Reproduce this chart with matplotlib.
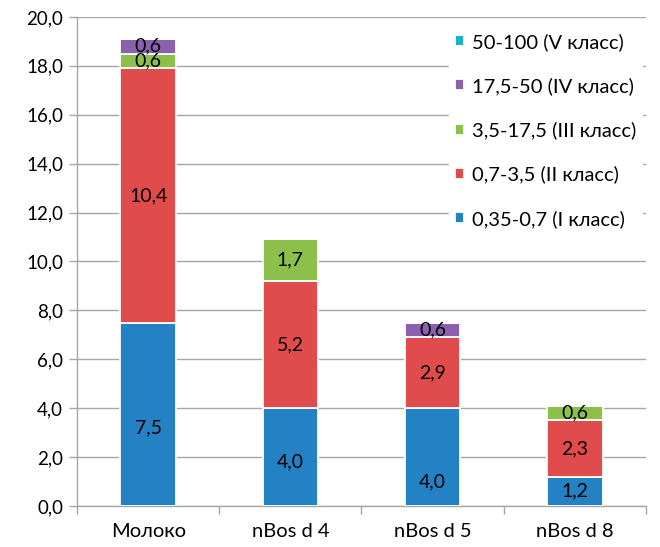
import matplotlib
matplotlib.use("Agg")
import matplotlib.pyplot as plt
import numpy as np

plt.rcParams['font.family'] = ['Lato', 'DejaVu Sans']

categories = ["Молоко", "nBos d 4", "nBos d 5", "nBos d 8"]
series_names = ["0,35-0,7 (I класс)", "0,7-3,5 (II класс)", "3,5-17,5 (III класс)",
                "17,5-50 (IV класс)", "50-100 (V класс)"]
class_I = [7.5, 4.0, 4.0, 1.2]
class_II = [10.4, 5.2, 2.9, 2.3]
class_III = [0.6, 1.7, 0.0, 0.6]
class_IV = [0.6, 0.0, 0.6, 0.0]
class_V = [0.0, 0.0, 0.0, 0.0]
colors = ["#2381c4", "#e04b4b", "#8dc04a", "#8b60ad", "#19b3cb"]
y_ticks = [0, 2, 4, 6, 8, 10, 12, 14, 16, 18, 20]

# labels that were nudged down from their segment centre (series index, category index) -> shift in y units
label_shift = {(0, 0): -0.57, (0, 1): -0.2, (0, 2): -1.0}

fs = 13.5
fig = plt.figure(figsize=(6.6, 5.47), dpi=100)
ax = fig.add_axes([0.1167, 0.075, 0.862, 0.894])

x = np.arange(len(categories))
bottom = np.zeros(len(categories))
handles = []
for si, (vals, name, col) in enumerate(zip([class_I, class_II, class_III, class_IV, class_V],
                                           series_names, colors)):
    vals = np.array(vals)
    bars = ax.bar(x, vals, width=0.39, bottom=bottom, color=col, edgecolor="white",
                  linewidth=1.3, label=name, zorder=3)
    handles.append(bars)
    for ci, (xi, v, b) in enumerate(zip(x, vals, bottom)):
        if v > 0:
            y = b + v / 2 + label_shift.get((si, ci), 0.0)
            ax.text(xi, y, f"{v:.1f}".replace(".", ","), ha="center", va="center",
                    fontsize=14, color="black", zorder=4)
    bottom += vals

ax.set_xlim(-0.5, 3.5)
ax.set_ylim(0, 20)
ax.set_yticks(y_ticks)
ax.set_yticklabels([f"{t:.1f}".replace(".", ",") for t in y_ticks], fontsize=fs)
ax.set_xticks(x)
ax.set_xticklabels(categories, fontsize=14.5)
ax.set_xticks(np.arange(-0.5, 4.0, 1.0), minor=True)
ax.tick_params(axis="x", which="major", length=0, pad=12)
ax.tick_params(axis="x", which="minor", length=6, color="#a6a6a6", width=1)
ax.tick_params(axis="y", length=6, color="#a6a6a6", width=1, pad=4)
ax.grid(axis="y", color="#a6a6a6", linewidth=1, zorder=0)
for s in ["top", "right"]:
    ax.spines[s].set_visible(False)
for s in ["left", "bottom"]:
    ax.spines[s].set_color("#a6a6a6")
    ax.spines[s].set_linewidth(1)

leg = fig.legend(handles[::-1], series_names[::-1], loc="upper left",
                 bbox_to_anchor=(0.68, 0.951), frameon=True, fontsize=14.5,
                 handlelength=0.45, handleheight=0.45, handletextpad=0.4,
                 labelspacing=1.31, borderpad=0.3, borderaxespad=0)
leg.get_frame().set_facecolor("white")
leg.get_frame().set_edgecolor("white")
leg.get_frame().set_alpha(1)
leg.set_zorder(5)

fig.savefig("out.png", dpi=100)
